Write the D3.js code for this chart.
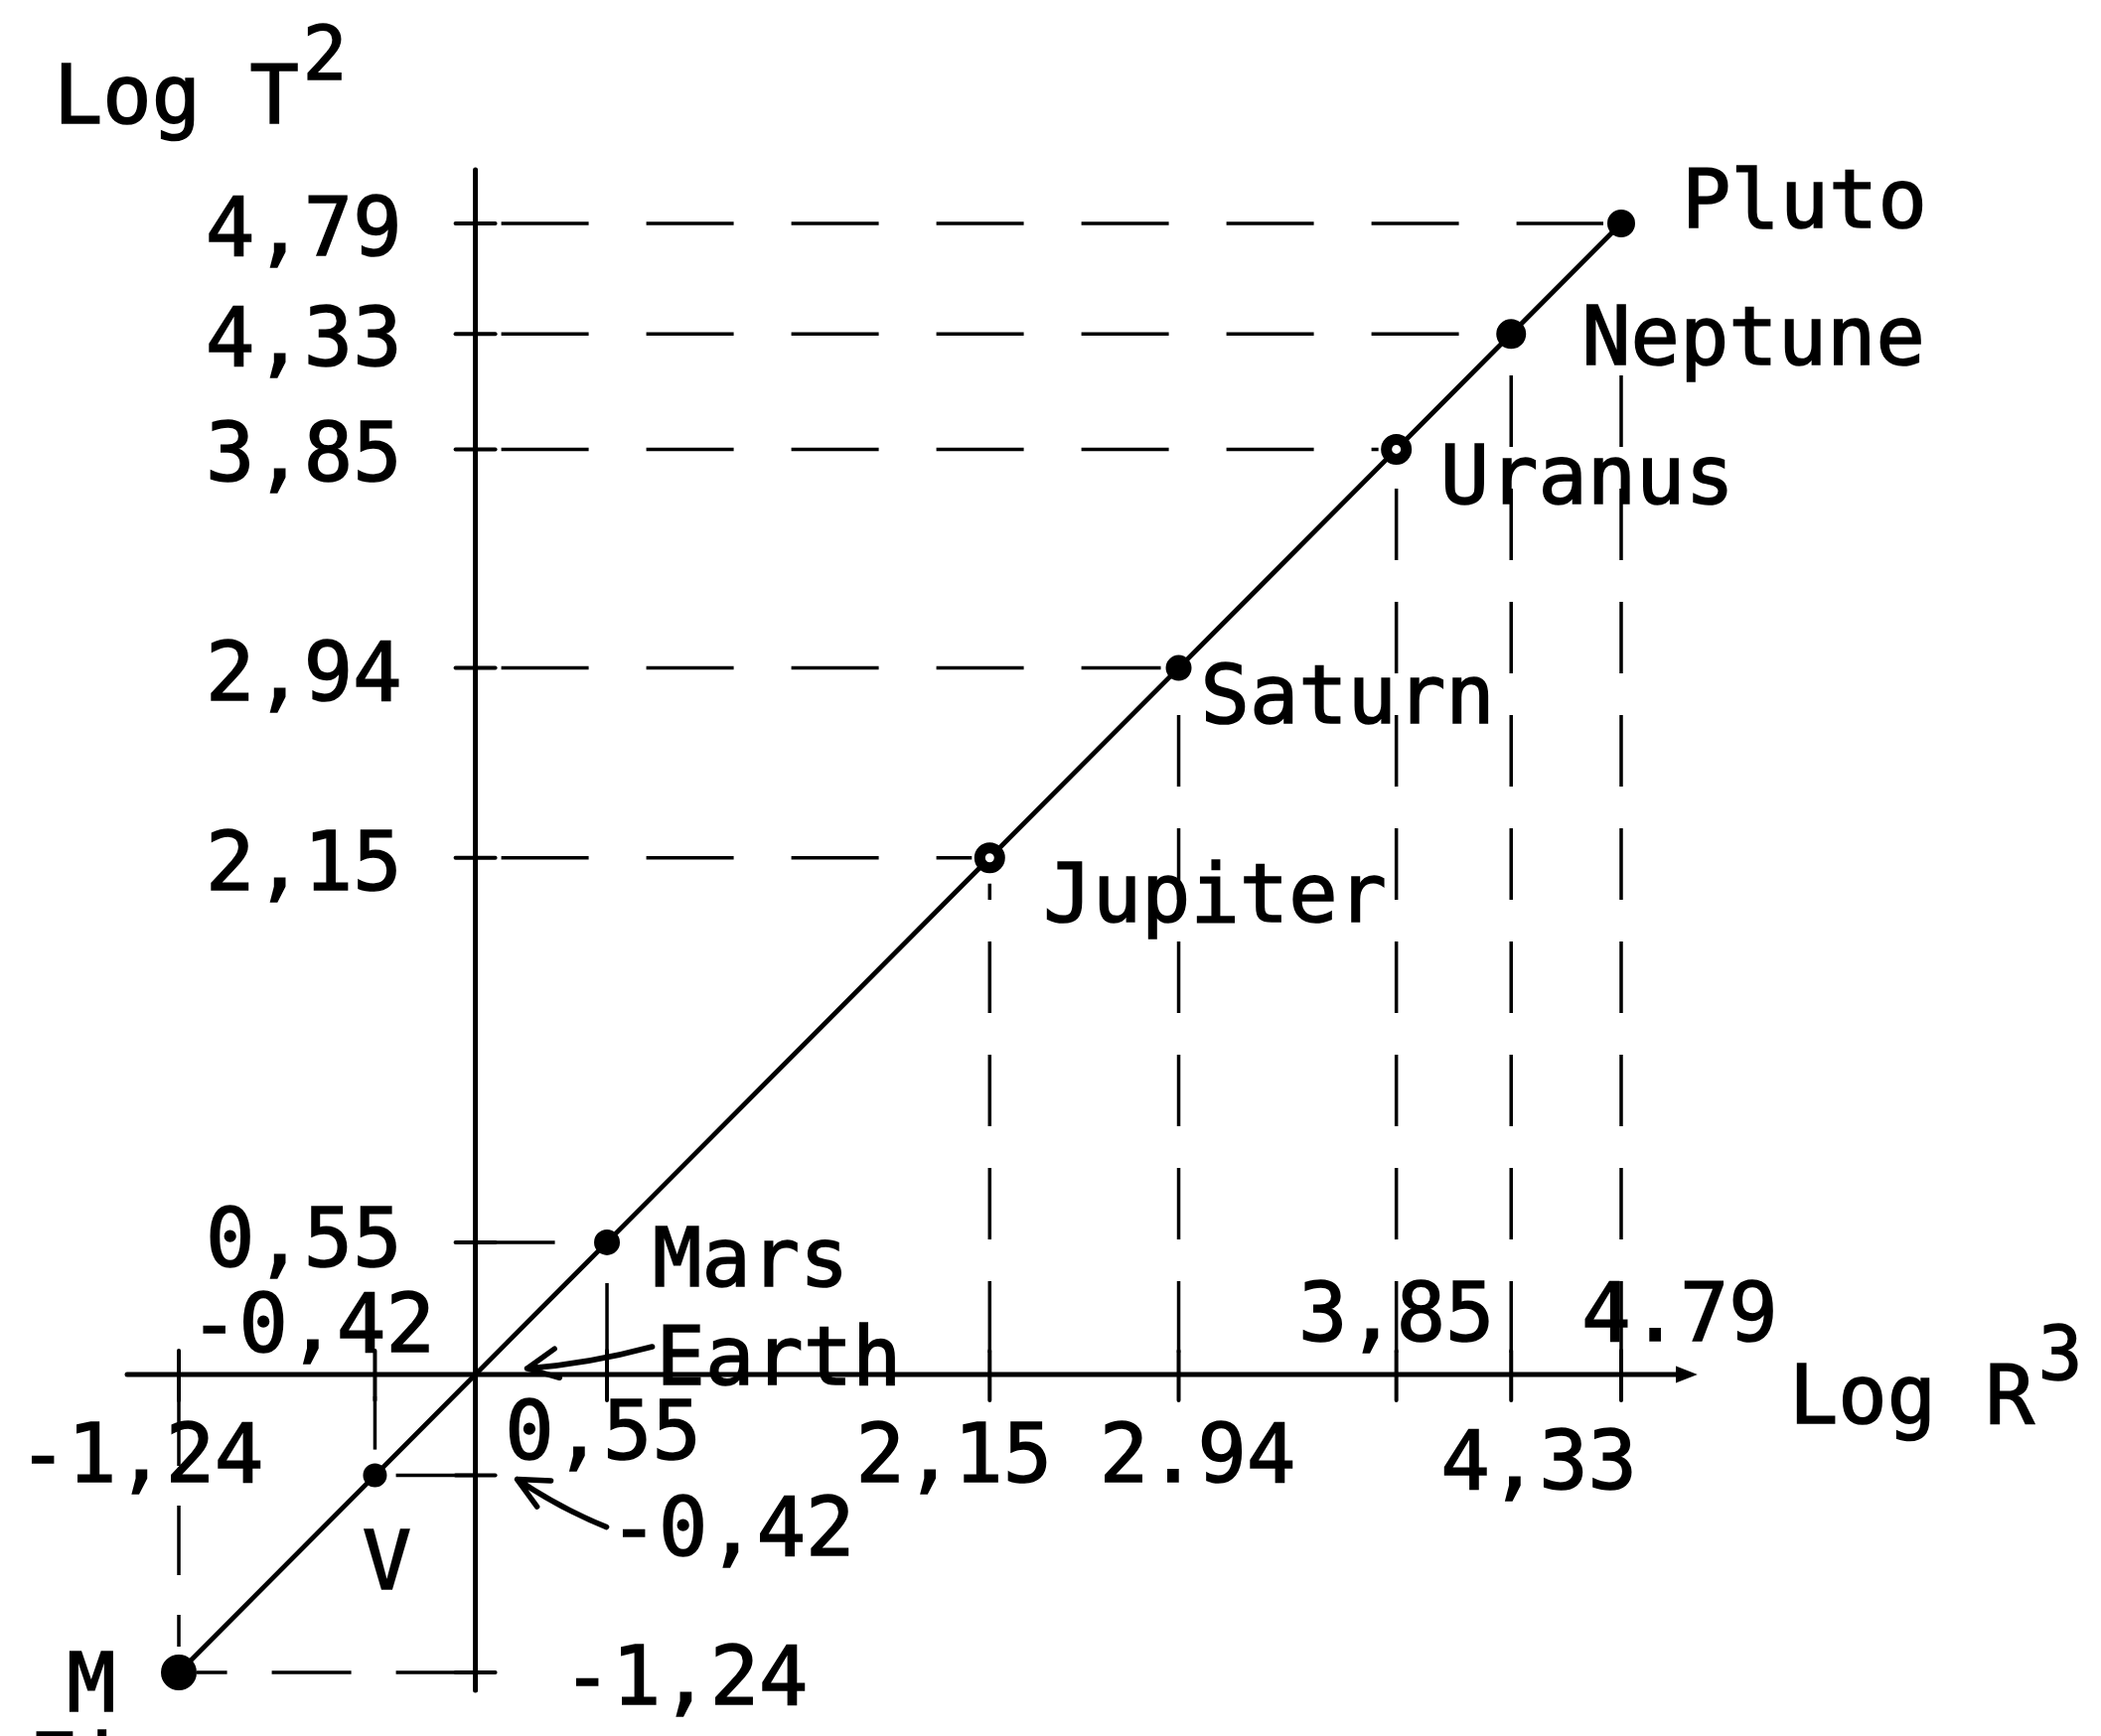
<!DOCTYPE html>
<html><head><meta charset="utf-8">
<script src="https://cdn.jsdelivr.net/npm/d3@7"></script>
<style>
html,body{margin:0;padding:0;background:#fff;}
svg{display:block;}
text{font-family:"DejaVu Sans Mono",monospace;fill:#000;stroke:#000;stroke-width:1.6px;}
</style>
</head><body>
<svg id="c" width="2115" height="1748"></svg>
<script>
// ---- data ----
const planets = ["M","V","Earth","Mars","Jupiter","Saturn","Uranus","Neptune","Pluto"];
const logR3   = [-1.24,-0.42,0,0.55,2.15,2.94,3.85,4.33,4.79];
const logT2   = [-1.24,-0.42,0,0.55,2.15,2.94,3.85,4.33,4.79];
const xTickValues = [-1.24,-0.42,0.55,2.15,2.94,3.85,4.33,4.79];
const xTickLabels = ["-1,24","-0,42","0,55","2,15","2.94","3,85","4,33","4.79"];
const yTickValues = [-1.24,-0.42,0.55,2.15,2.94,3.85,4.33,4.79];
const yTickLabels = ["-1,24","-0,42","0,55","2,15","2,94","3,85","4,33","4,79"];
const xTitle = "Log R", xTitleSup = "3";
const yTitle = "Log T", yTitleSup = "2";

// ---- layout ----
const FS = 82;
const svg = d3.select("#c");
svg.append("rect").attr("width",2115).attr("height",1748).attr("fill","#fff");
const x = d3.scaleLinear().domain([-1.24,4.79]).range([180,1632]);
const y = d3.scaleLinear().domain([-1.24,4.79]).range([1684,225]);
const x0 = x(0), y0 = y(0);
const data = planets.map((n,i)=>({name:n, r:logR3[i], t:logT2[i]}));

const g = svg.append("g");

// guide dashed lines
const guides = g.append("g").attr("stroke","#000").attr("stroke-width",3.5).attr("fill","none");
data.filter(d=>d.name!=="Earth").forEach(d=>{
  const s = d.r>0?1:-1;
  const hStart = d.r>2 ? x0+26 : x0;
  guides.append("line")
    .attr("x1",hStart).attr("x2",x(d.r)-s*18)
    .attr("y1",y(d.t)).attr("y2",y(d.t))
    .attr("stroke-dasharray",d.r>2?"88,58":"80,45");
  const vEnd = y(d.t)+s*(d.name==="Pluto"?95:26);
  guides.append("line")
    .attr("x1",x(d.r)).attr("x2",x(d.r))
    .attr("y1",y0-(d.r>0?22:-22)).attr("y2",vEnd)
    .attr("stroke-dasharray",d.r>2?"72,42":"70,40");
});

// axes
const axes = g.append("g").attr("stroke","#000").attr("stroke-width",5).attr("stroke-linecap","round");
axes.append("line").attr("x1",x0).attr("x2",x0)
  .attr("y1",y(4.79)-54).attr("y2",y(-1.24)+18);
axes.append("line").attr("x1",x(-1.24)-52).attr("x2",x(4.79)+66)
  .attr("y1",y0).attr("y2",y0);
axes.append("path")
  .attr("d",`M${x(4.79)+56},${y0-7}L${x(4.79)+74},${y0}L${x(4.79)+56},${y0+7}Z`)
  .attr("fill","#000").attr("stroke-width",2);
// ticks
axes.selectAll(".xt").data(xTickValues).join("line")
  .attr("x1",d=>x(d)).attr("x2",d=>x(d)).attr("y1",y0-24).attr("y2",y0+26).attr("stroke-width",4);
axes.selectAll(".yt").data(yTickValues).join("line")
  .attr("y1",d=>y(d)).attr("y2",d=>y(d)).attr("x1",x0-20).attr("x2",x0+20).attr("stroke-width",4);

// regression line through the planets
const line = d3.line().x(d=>x(d.r)).y(d=>y(d.t));
g.append("path").datum(data).attr("d",line)
  .attr("fill","none").attr("stroke","#000").attr("stroke-width",4.8);

// markers
const openM = new Set(["Jupiter","Uranus"]);
const rad = {M:17,V:11,Mars:12,Jupiter:10,Saturn:12,Uranus:10,Neptune:14,Pluto:13};
g.selectAll(".pt").data(data.filter(d=>d.name!=="Earth")).join("circle")
  .attr("cx",d=>x(d.r)).attr("cy",d=>y(d.t))
  .attr("r",d=>rad[d.name])
  .attr("fill",d=>openM.has(d.name)?"#fff":"#000")
  .attr("stroke","#000").attr("stroke-width",d=>openM.has(d.name)?11:2);

// planet labels
const lblPos = {
  Pluto:[61,4,"start"], Neptune:[71,31,"start"], Uranus:[44,55,"start"],
  Saturn:[22,55,"start"], Jupiter:[54,64,"start"], Mars:[46,44,"start"],
  Earth:[182,10,"start"], V:[12,114,"middle"], M:[-88,39,"middle"]
};
g.selectAll(".pl").data(data).join("text")
  .attr("x",d=>x(d.r)+lblPos[d.name][0]).attr("y",d=>y(d.t)+lblPos[d.name][1])
  .attr("text-anchor",d=>lblPos[d.name][2])
  .attr("font-size",FS).text(d=>d.name);

// x tick labels (center offset, baseline offset)
const xLblPos = [[-38,108],[-63,-23],[-4,85],[-36,108],[19,108],[0,-34],[28,115],[59,-34]];
g.selectAll(".xl").data(xTickValues).join("text")
  .attr("x",(d,i)=>x(d)+xLblPos[i][0]).attr("y",(d,i)=>y0+xLblPos[i][1])
  .attr("text-anchor","middle").attr("font-size",FS)
  .text((d,i)=>xTickLabels[i]);

// y tick labels
g.selectAll(".yl").data(yTickValues).join("text")
  .attr("x",d=> d===-0.42 ? x0+135 : d===-1.24 ? x0+88 : x0-74)
  .attr("y",d=> d===-0.42 ? y(d)+80 : d===0.55 ? y(d)+24 : y(d)+32)
  .attr("text-anchor",d=> d<0 ? "start" : "end")
  .attr("font-size",FS)
  .text((d,i)=>yTickLabels[i]);

// arrows
function arrow(tx,ty,fx,fy){
  const a = Math.atan2(fy-ty,fx-tx), L=34, sp=0.45;
  const p = d3.path();
  p.moveTo(fx,fy); p.quadraticCurveTo((fx+tx)/2,(fy+ty)/2+6,tx,ty);
  p.moveTo(tx+L*Math.cos(a-sp),ty+L*Math.sin(a-sp)); p.lineTo(tx,ty);
  p.lineTo(tx+L*Math.cos(a+sp),ty+L*Math.sin(a+sp));
  g.append("path").attr("d",p.toString()).attr("fill","none")
   .attr("stroke","#000").attr("stroke-width",5.5).attr("stroke-linecap","round").attr("stroke-linejoin","round");
}
arrow(x0+52,y0-6,x0+178,y0-28);
arrow(x0+42,y(-0.42)+4,x0+132,y(-0.42)+52);

// axis titles
const yt = svg.append("text").attr("x",54).attr("y",124).attr("font-size",FS);
yt.append("tspan").text(yTitle);
yt.append("tspan").attr("font-size",74).attr("dx",4).attr("dy",-44).text(yTitleSup);
const xt = svg.append("text").attr("x",1801).attr("y",1433).attr("font-size",FS);
xt.append("tspan").text(xTitle);
xt.append("tspan").attr("font-size",74).attr("dx",4).attr("dy",-44).text(xTitleSup);

// cut-off caption at the bottom edge
svg.append("text").attr("x",28).attr("y",1804).attr("font-size",FS).text("Fig");
</script>
</body></html>
